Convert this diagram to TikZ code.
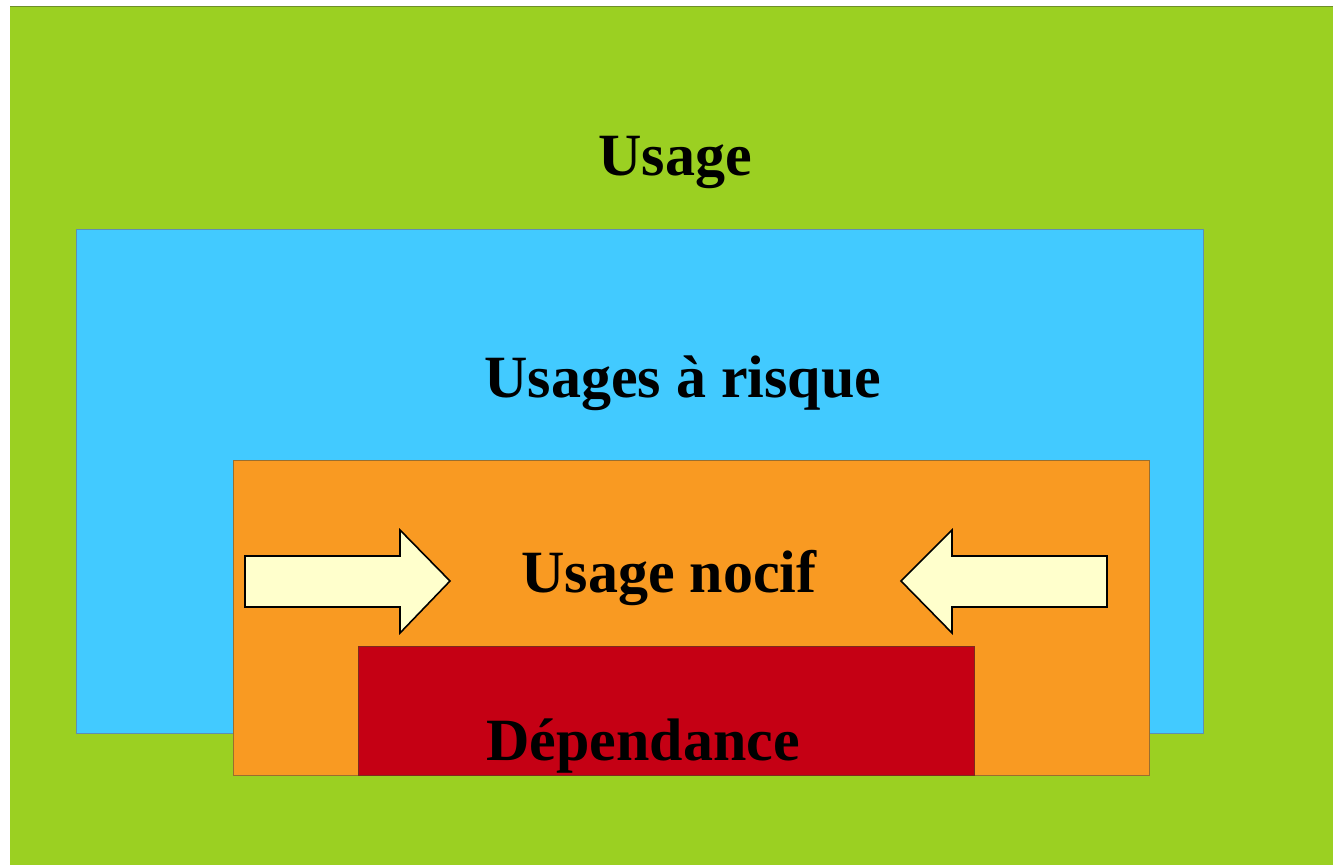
\documentclass[tikz,border=0pt]{standalone}
\usepackage{fontspec}
\setmainfont{Liberation Serif}
\begin{document}
\begin{tikzpicture}[x=1pt,y=-1pt,
  box/.style={line width=1pt},
  lbl/.style={anchor=base,inner sep=0pt,font=\fontsize{60}{72}\selectfont\bfseries},
  arrowshape/.style={fill=arrowfill,draw=black,line width=1.6pt,line join=miter}]
\definecolor{bggreen}{HTML}{9BD022}
\definecolor{greenedge}{HTML}{6E8E2A}
\definecolor{riskblue}{HTML}{42CAFF}
\definecolor{blueedge}{HTML}{5F8FB2}
\definecolor{harmorange}{HTML}{F99A22}
\definecolor{orangeedge}{HTML}{9A6E2E}
\definecolor{depred}{HTML}{C50014}
\definecolor{rededge}{HTML}{7E2A1E}
\definecolor{arrowfill}{HTML}{FFFFCC}
\useasboundingbox (0,0) rectangle (1333,865);
\fill[white] (0,0) rectangle (1333,865);
% outer green
\fill[bggreen] (10,6) rectangle (1333,865);
\draw[greenedge,line width=1.2pt] (10,6.5) -- (1333,6.5);
% blue
\draw[box,fill=riskblue,draw=blueedge] (76,229) rectangle (1203,733);
% orange
\draw[box,fill=harmorange,draw=orangeedge] (233,460) rectangle (1149,775);
% red
\draw[box,fill=depred,draw=rededge] (358,646) rectangle (974,775);
% labels
\node[lbl] (usage) at (675,175) {Usage};
\node[lbl] (risk) at (683,397) {Usages à risque};
\node[lbl] (nocif) at (669,592) {Usage nocif};
\node[lbl] (dep) at (643,760) {Dépendance};
% arrows
\draw[arrowshape] (245,556) -- (400,556) -- (400,530) -- (450,581) -- (400,633) -- (400,607) -- (245,607) -- cycle;
\draw[arrowshape] (1107,556) -- (952,556) -- (952,530) -- (901,581) -- (952,633) -- (952,607) -- (1107,607) -- cycle;
\end{tikzpicture}
\end{document}
